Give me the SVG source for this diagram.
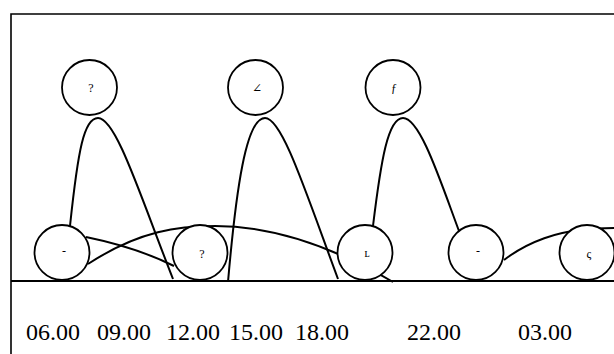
<svg xmlns="http://www.w3.org/2000/svg" width="614" height="354" viewBox="0 0 614 354">
<style>
.node circle{fill:#fff;stroke:#000;stroke-width:1.8}
.glyph{font-family:"Liberation Serif","DejaVu Serif",serif;font-size:12px;fill:#000;text-anchor:middle}
.edge{fill:none;stroke:#000;stroke-width:2}
.frame{fill:none;stroke:#000;stroke-width:1.6}
.time{font-family:"Liberation Serif","Times New Roman",serif;font-size:24px;fill:#000}
</style>
<rect x="0" y="0" width="614" height="354" fill="#fff"/>
<path class="frame" d="M11,354 V14 H614"/>
<g id="connectors">
<path class="edge" d="M70,226 C78,150 84,118 98,118 C116,118 140,195 173,279"/>
<path class="edge" d="M228,282 C236,190 246,118 265,118 C282,118 305,190 338,279"/>
<path class="edge" d="M373,226 C381,160 388,118 403,118 C420,118 440,180 459,231"/>
<path class="edge" d="M86,237 C120,244 150,254 174,266"/>
<path class="edge" d="M88,264 C140,230 180,226 215,226 C270,226 330,245 393,282"/>
<path class="edge" d="M504,260 C530,240 560,232 580,230 C595,228 605,228 614,228"/>
</g>
<line x1="11" y1="281" x2="614" y2="281" stroke="#000" stroke-width="2"/>
<g id="node-top-1" class="node"><circle cx="89.5" cy="87.5" r="27.5"/><text class="glyph" x="91" y="92">?</text></g>
<g id="node-top-2" class="node"><circle cx="255.5" cy="87.5" r="27.5"/><text class="glyph" x="257" y="92">∠</text></g>
<g id="node-top-3" class="node"><circle cx="393" cy="87.5" r="27.5"/><text class="glyph" x="394" y="92">ƒ</text></g>
<g id="node-bottom-1" class="node"><circle cx="62" cy="252.5" r="27.5"/><text class="glyph" x="64" y="255">-</text></g>
<g id="node-bottom-2" class="node"><circle cx="200" cy="252.5" r="27.5"/><text class="glyph" x="202" y="258">?</text></g>
<g id="node-bottom-3" class="node"><circle cx="365" cy="252.5" r="27.5"/><text class="glyph" x="367" y="257">ʟ</text></g>
<g id="node-bottom-4" class="node"><circle cx="476" cy="252.5" r="27.5"/><text class="glyph" x="478" y="255">-</text></g>
<g id="node-bottom-5" class="node"><circle cx="587" cy="252.5" r="27.5"/><text class="glyph" x="589" y="258">ς</text></g>
<g id="axis-labels">
<text class="time" x="26" y="340">06.00</text>
<text class="time" x="97" y="340">09.00</text>
<text class="time" x="166" y="340">12.00</text>
<text class="time" x="229" y="340">15.00</text>
<text class="time" x="295" y="340">18.00</text>
<text class="time" x="407" y="340">22.00</text>
<text class="time" x="518" y="340">03.00</text>
</g>
</svg>
